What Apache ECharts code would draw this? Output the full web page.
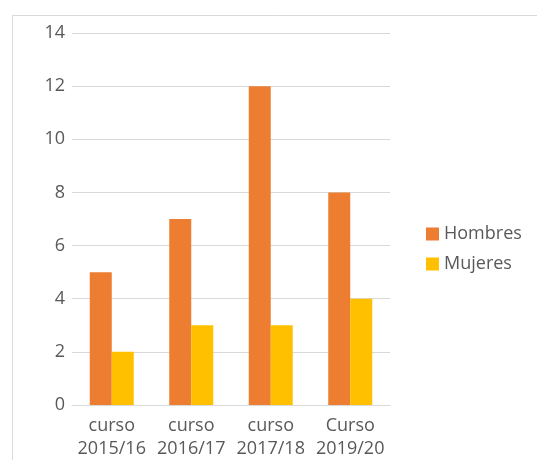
<!DOCTYPE html>
<html><head><meta charset="utf-8">
<script src="https://cdn.jsdelivr.net/npm/echarts@6/dist/echarts.min.js"></script>
<style>html,body{margin:0;padding:0;background:#fff}#c{width:537px;height:460px}</style>
</head><body><div id="c"></div>
<script>
const categories = ['curso\n2015/16', 'curso\n2016/17', 'curso\n2017/18', 'Curso\n2019/20'];
const hombres = [5, 7, 12, 8];
const mujeres = [2, 3, 3, 4];
const yTicks = {min: 0, max: 14, interval: 2};
const chart = echarts.init(document.getElementById('c'), null, {renderer: 'canvas'});
const font = 'Open Sans';
chart.setOption({
  animation: false,
  backgroundColor: '#fff',
  graphic: [{type: 'rect', left: 10, top: 13, shape: {width: 600, height: 600}, style: {fill: 'none', stroke: '#d9d9d9', lineWidth: 1}}],
  grid: {left: 72, right: 147, top: 33, bottom: 55, containLabel: false},
  legend: {
    orient: 'vertical', left: 421, top: 220, itemWidth: 13, itemHeight: 13, itemGap: 12,
    icon: 'rect',
    textStyle: {fontFamily: font, fontSize: 18, color: '#595959'},
    data: ['Hombres', 'Mujeres']
  },
  xAxis: {
    type: 'category', data: categories,
    axisLine: {lineStyle: {color: '#d9d9d9'}}, axisTick: {show: false},
    axisLabel: {fontFamily: font, fontSize: 18, color: '#595959', lineHeight: 23, margin: 9, interval: 0}
  },
  yAxis: {
    type: 'value', min: yTicks.min, max: yTicks.max, interval: yTicks.interval,
    axisLine: {show: false}, axisTick: {show: false},
    splitLine: {lineStyle: {color: '#d9d9d9'}},
    axisLabel: {fontFamily: font, fontSize: 18, color: '#595959', margin: 7}
  },
  series: [
    {name: 'Hombres', type: 'bar', data: hombres, barWidth: 22, barGap: '0%', itemStyle: {color: '#ED7D31'}},
    {name: 'Mujeres', type: 'bar', data: mujeres, barWidth: 22, barGap: '0%', itemStyle: {color: '#FFC000'}}
  ]
});
</script></body></html>
